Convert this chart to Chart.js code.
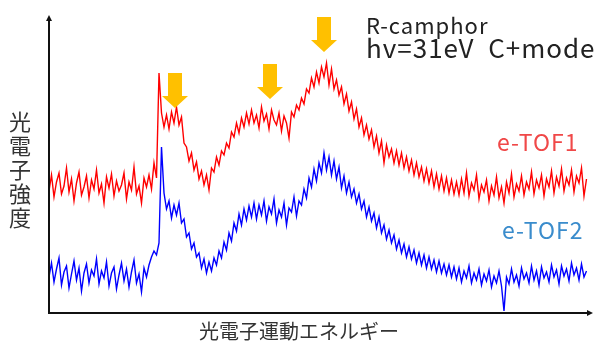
<!DOCTYPE html>
<html>
<head>
<meta charset="utf-8">
<script src="https://cdn.jsdelivr.net/npm/chart.js@4.4.0/dist/chart.umd.min.js"></script>
<style>
    html, body { margin: 0; padding: 0; background: #fff; }
    #wrap { position: relative; width: 600px; height: 342px; overflow: hidden;
            font-family: "Noto Sans CJK JP", "Noto Sans", sans-serif; }
    #c { position: absolute; left: 0; top: 0; }
    .lbl { position: absolute; white-space: pre; line-height: 1; }
</style>
</head>
<body>
<div id="wrap">
    <canvas id="c" width="600" height="342"></canvas>
    <div class="lbl" style="left:9px;top:108px;font-size:22px;line-height:24px;color:#333;white-space:normal;width:24px;">光<br>電<br>子<br>強<br>度</div>
    <div class="lbl" style="left:-1px;width:600px;text-align:center;top:321px;font-size:20px;color:#333;">光電子運動エネルギー</div>
    <div class="lbl" style="left:366px;top:13px;font-size:22px;letter-spacing:1px;color:#222;">R-camphor</div>
    <div class="lbl" style="left:366px;top:34px;font-size:26px;letter-spacing:1px;color:#222;">hv=31eV&nbsp;&nbsp;C+mode</div>
    <div class="lbl" style="left:497px;top:130px;font-size:23px;letter-spacing:1px;color:#f04848;">e-TOF1</div>
    <div class="lbl" style="left:502px;top:218px;font-size:23px;letter-spacing:1px;color:#3a8ccc;">e-TOF2</div>
</div>
<script>
// Photoelectron spectra, values (arbitrary units)
// one sample every channel, channel 0 at the y axis
const tof1 = [
    122, 138, 116, 131, 140, 119, 127, 145, 121, 134,
    112, 130, 141, 118, 126, 137, 115, 133, 124, 143,
    120, 129, 110, 136, 125, 139, 117, 132, 122, 128,
    140, 114, 131, 123, 146, 119, 127, 110, 135, 126,
    138, 124, 150, 135, 240, 200, 186, 198, 184, 201,
    190, 206, 188, 196, 170, 166, 152, 160, 143, 151,
    134, 142, 128, 138, 123, 145, 141, 156, 148, 162,
    158, 170, 165, 181, 176, 190, 180, 195, 186, 200,
    189, 203, 190, 198, 185, 206, 192, 199, 184, 203,
    193, 188, 200, 182, 197, 190, 175, 201, 196, 208,
    203, 215, 209, 224, 220, 235, 226, 241, 230, 246,
    236, 250, 228, 244, 224, 233, 218, 226, 209, 219,
    202, 211, 194, 204, 186, 195, 178, 188, 174, 183,
    166, 177, 160, 172, 150, 168, 156, 164, 150, 162,
    148, 160, 145, 156, 142, 153, 138, 150, 136, 146,
    132, 144, 130, 142, 126, 139, 124, 137, 122, 135,
    120, 133, 119, 131, 118, 134, 120, 140, 117, 130,
    123, 138, 114, 128, 121, 133, 112, 127, 118, 136,
    115, 126, 110, 131, 120, 139, 116, 129, 122, 137,
    118, 131, 124, 141, 119, 133, 125, 138, 117, 134,
    126, 142, 120, 136, 127, 144, 122, 135, 128, 143,
    121, 137, 130, 145, 117, 134
];
const tof2 = [
    36, 50, 31, 44, 55, 28, 41, 47, 25, 39,
    52, 33, 45, 22, 40, 49, 30, 43, 37, 54,
    29, 42, 35, 51, 27, 40, 46, 24, 38, 50,
    32, 44, 26, 41, 53, 30, 39, 21, 45, 36,
    48, 56, 62, 58, 70, 166, 120, 104, 112, 95,
    108, 98, 110, 90, 94, 76, 80, 64, 70, 56,
    60, 45, 54, 40, 51, 42, 55, 48, 62, 55,
    71, 63, 80, 72, 90, 82, 99, 88, 104, 93,
    107, 96, 110, 94, 108, 98, 112, 92, 106, 99,
    114, 90, 103, 96, 110, 88, 105, 101, 116, 97,
    112, 108, 124, 115, 135, 126, 144, 132, 150, 140,
    160, 143, 156, 138, 152, 134, 146, 125, 137, 120,
    131, 116, 124, 110, 119, 104, 112, 96, 106, 92,
    100, 85, 96, 80, 88, 74, 83, 70, 78, 64,
    73, 60, 69, 56, 66, 54, 63, 50, 60, 48,
    58, 45, 56, 44, 53, 41, 52, 40, 49, 38,
    48, 36, 46, 34, 45, 31, 42, 35, 47, 30,
    40, 33, 44, 28, 39, 32, 43, 26, 37, 30,
    42, 27, 2, 36, 29, 44, 31, 38, 27, 45,
    34, 40, 30, 47, 33, 42, 28, 46, 35, 41,
    31, 48, 36, 43, 29, 47, 37, 44, 32, 50,
    38, 45, 33, 49, 36, 42
];
const channels = tof1.map((_, i) => i);

// orange markers: channel and intensity of each arrow tip
const markerChannel = [50.4, 88.4, 110];
const markerLevel = [205, 214, 261];

const xMax = 217.6;
const yMax = 298;

// axis lines with arrow heads
const axesPlugin = {
    id: 'axes',
    afterDatasetsDraw(chart) {
        const { ctx, chartArea: a } = chart;
        ctx.save();
        ctx.strokeStyle = '#111';
        ctx.fillStyle = '#111';
        ctx.lineWidth = 2;
        ctx.beginPath();
        ctx.moveTo(a.left, a.top + 4);
        ctx.lineTo(a.left, a.bottom);
        ctx.lineTo(a.right - 4, a.bottom);
        ctx.stroke();
        ctx.beginPath();
        ctx.moveTo(a.left, a.top);
        ctx.lineTo(a.left - 3, a.top + 6);
        ctx.lineTo(a.left + 3, a.top + 6);
        ctx.closePath();
        ctx.fill();
        ctx.beginPath();
        ctx.moveTo(a.right, a.bottom);
        ctx.lineTo(a.right - 6, a.bottom - 3);
        ctx.lineTo(a.right - 6, a.bottom + 3);
        ctx.closePath();
        ctx.fill();
        ctx.restore();
    }
};

// block arrows pointing at the peaks
const markerPlugin = {
    id: 'markers',
    afterDatasetsDraw(chart) {
        const { ctx, scales: { x, y } } = chart;
        ctx.save();
        ctx.fillStyle = '#ffc000';
        markerChannel.forEach((ch, i) => {
            const tx = x.getPixelForValue(ch);
            const ty = y.getPixelForValue(markerLevel[i]);
            ctx.beginPath();
            ctx.moveTo(tx, ty);
            ctx.lineTo(tx - 13, ty - 12);
            ctx.lineTo(tx - 7, ty - 12);
            ctx.lineTo(tx - 7, ty - 35);
            ctx.lineTo(tx + 7, ty - 35);
            ctx.lineTo(tx + 7, ty - 12);
            ctx.lineTo(tx + 13, ty - 12);
            ctx.closePath();
            ctx.fill();
        });
        ctx.restore();
    }
};

new Chart(document.getElementById('c').getContext('2d'), {
    type: 'line',
    data: {
        labels: channels,
        datasets: [
            {
                label: 'e-TOF2',
                data: tof2,
                borderColor: '#0000ff',
                borderWidth: 1.4,
                pointRadius: 0,
                tension: 0
            },
            {
                label: 'e-TOF1',
                data: tof1,
                borderColor: '#ff0000',
                borderWidth: 1.4,
                pointRadius: 0,
                tension: 0
            }
        ]
    },
    options: {
        responsive: false,
        animation: false,
        layout: { padding: { left: 49, right: 7, top: 15, bottom: 29 } },
        plugins: {
            legend: { display: false },
            tooltip: { enabled: false }
        },
        scales: {
            x: { type: 'linear', min: 0, max: xMax, display: false },
            y: { min: 0, max: yMax, display: false }
        }
    },
    plugins: [axesPlugin, markerPlugin]
});
</script>
</body>
</html>
